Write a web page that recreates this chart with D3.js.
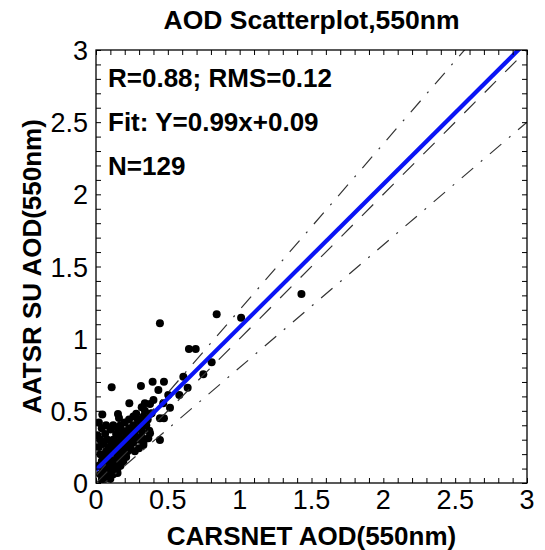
<!DOCTYPE html>
<html><head><meta charset="utf-8">
<script src="https://cdn.jsdelivr.net/npm/d3@7"></script>
<style>body{margin:0;background:#fff}svg{display:block}</style>
</head><body>
<script>
// Data
const carsnetAOD = [1.43,0.84,1.01,0.445,0.647,0.694,0.805,0.747,0.608,0.394,0.473,0.109,0.313,0.638,0.434,0.503,0.58,0.376,0.232,0.318,0.515,0.044,0.153,0.445,0.473,0.26,0.04,0.376,0.318,0.445,0.299,0.063,
0.4,0.468,0.34,0.387,0.371,0.364,0.33,
0.02,0.03,0.02,0.03,0.04,0.02,0.05,0.03,0.06,0.04,0.07,0.01,0.05,
0.07,0.08,0.06,0.09,0.08,0.10,0.09,0.08,0.10,0.07,0.10,0.11,
0.12,0.13,0.12,0.14,0.11,0.14,0.13,0.15,0.12,0.14,0.15,0.12,0.15,
0.16,0.17,0.18,0.16,0.19,0.17,0.18,0.19,0.17,0.20,0.20,0.16,
0.21,0.22,0.23,0.22,0.24,0.21,0.23,0.25,0.24,
0.26,0.27,0.28,0.26,0.29,0.28,0.27,0.30,
0.31,0.33,0.32,0.35,0.34,0.36,0.38,0.30,0.33,
0.06,0.09,0.11,0.13,0.15,0.17,0.19,0.21,0.10,0.15,0.10,0.08,0.12,0.05];
const aatsrAOD = [1.31,1.17,1.145,1.107,0.929,0.929,0.836,0.753,0.737,0.702,0.702,0.663,0.672,0.66,0.644,0.61,0.61,0.547,0.552,0.525,0.522,0.475,0.478,0.448,0.448,0.46,0.379,0.344,0.321,0.298,0.24,0.34,
0.575,0.552,0.552,0.483,0.362,0.31,0.263,
0.42,0.30,0.25,0.20,0.15,0.12,0.10,0.06,0.03,0.02,0.05,0.33,0.27,
0.22,0.18,0.14,0.12,0.08,0.06,0.25,0.30,0.37,0.40,0.16,0.09,
0.20,0.25,0.30,0.34,0.28,0.15,0.12,0.10,0.07,0.22,0.28,0.40,0.38,
0.18,0.24,0.30,0.33,0.36,0.40,0.20,0.15,0.12,0.26,0.42,0.45,
0.32,0.28,0.38,0.22,0.35,0.18,0.44,0.30,0.25,
0.40,0.36,0.32,0.28,0.44,0.48,0.22,0.38,
0.42,0.46,0.36,0.40,0.50,0.44,0.48,0.30,0.28,
0.19,0.21,0.14,0.17,0.20,0.28,0.23,0.25,0.03,0.07,0.05,0.04,0.06,0.08];
const tickValues = [0,0.5,1,1.5,2,2.5,3];
const tickLabels = ["0","0.5","1","1.5","2","2.5","3"];
const fitSlope = 0.99, fitIntercept = 0.09;
const eeSlopes = [1.15, 0.85], eeIntercepts = [0.05, -0.05];
const statLines = ["R=0.88; RMS=0.12", "Fit: Y=0.99x+0.09", "N=129"];
const titleText = "AOD Scatterplot,550nm";
const xTitle = "CARSNET AOD(550nm)";
const yTitle = "AATSR SU AOD(550nm)";

const W = 545, H = 550;
const L = 96, R = 527, T = 50, B = 483;
const font = "Liberation Sans, Arial, sans-serif";

const svg = d3.select("body").append("svg").attr("width", W).attr("height", H);
const x = d3.scaleLinear().domain([0,3]).range([L,R]);
const y = d3.scaleLinear().domain([0,3]).range([B,T]);

svg.append("defs").append("clipPath").attr("id","clip")
  .append("rect").attr("x",L).attr("y",T).attr("width",R-L).attr("height",B-T);

const pts = carsnetAOD.map((v,i)=>({x:v,y:aatsrAOD[i]}));
const plot = svg.append("g").attr("clip-path","url(#clip)");

plot.selectAll("circle").data(pts).enter().append("circle")
  .attr("cx",d=>x(d.x)).attr("cy",d=>y(d.y)).attr("r",4).attr("fill","#000");

const line = d3.line().x(d=>x(d[0])).y(d=>y(d[1]));
// 1:1 line
plot.append("path").attr("d",line([[0,0],[3,3]])).attr("fill","none")
  .attr("stroke","#333").attr("stroke-width",1.2).attr("stroke-dasharray","16,13");
// EE envelope
eeSlopes.forEach((s,i)=>{
  plot.append("path").attr("d",line([[0,eeIntercepts[i]],[3,s*3+eeIntercepts[i]]])).attr("fill","none")
    .attr("stroke","#333").attr("stroke-width",1.2).attr("stroke-dasharray","15,10,2,10");
});
// fit line
plot.append("path").attr("d",line([[0,fitIntercept],[3,fitSlope*3+fitIntercept]])).attr("fill","none")
  .attr("stroke","#0a14f5").attr("stroke-width",4.2);

// frame and ticks
const minor = d3.range(0,3.0001,0.1);
const axB = svg.append("g").attr("transform",`translate(0,${B})`)
  .call(d3.axisBottom(x).tickValues(minor).tickSize(-5).tickFormat(""));
const axT = svg.append("g").attr("transform",`translate(0,${T})`)
  .call(d3.axisTop(x).tickValues(minor).tickSize(-5).tickFormat(""));
const axL = svg.append("g").attr("transform",`translate(${L},0)`)
  .call(d3.axisLeft(y).tickValues(minor).tickSize(-5).tickFormat(""));
const axR = svg.append("g").attr("transform",`translate(${R},0)`)
  .call(d3.axisRight(y).tickValues(minor).tickSize(-5).tickFormat(""));
[axB,axT,axL,axR].forEach(a=>{a.select(".domain").remove(); a.selectAll("line").attr("stroke","#000").attr("stroke-width",1);});
svg.append("rect").attr("x",L).attr("y",T).attr("width",R-L).attr("height",B-T)
  .attr("fill","none").attr("stroke","#000").attr("stroke-width",1.3);

// tick labels
svg.append("g").selectAll("text").data(tickValues).enter().append("text")
  .attr("x",d=>x(d)).attr("y",509).attr("text-anchor","middle")
  .attr("font-family",font).attr("font-size",27).text((d,i)=>tickLabels[i]);
svg.append("g").selectAll("text").data(tickValues).enter().append("text")
  .attr("x",88).attr("y",d=>y(d)+10).attr("text-anchor","end")
  .attr("font-family",font).attr("font-size",27).text((d,i)=>tickLabels[i]);

// titles
svg.append("text").attr("x",(L+R)/2).attr("y",29).attr("text-anchor","middle")
  .attr("font-family",font).attr("font-weight","bold").attr("font-size",26.5).text(titleText);
svg.append("text").attr("x",(L+R)/2).attr("y",545).attr("text-anchor","middle")
  .attr("font-family",font).attr("font-weight","bold").attr("font-size",26).text(xTitle);
svg.append("text").attr("transform",`translate(41,${(T+B)/2}) rotate(-90)`).attr("text-anchor","middle")
  .attr("font-family",font).attr("font-weight","bold").attr("font-size",26).text(yTitle);

// stats
svg.append("g").selectAll("text").data(statLines).enter().append("text")
  .attr("x",108).attr("y",(d,i)=>87+i*44)
  .attr("font-family",font).attr("font-weight","bold").attr("font-size",26).text(d=>d);
</script>
</body></html>
